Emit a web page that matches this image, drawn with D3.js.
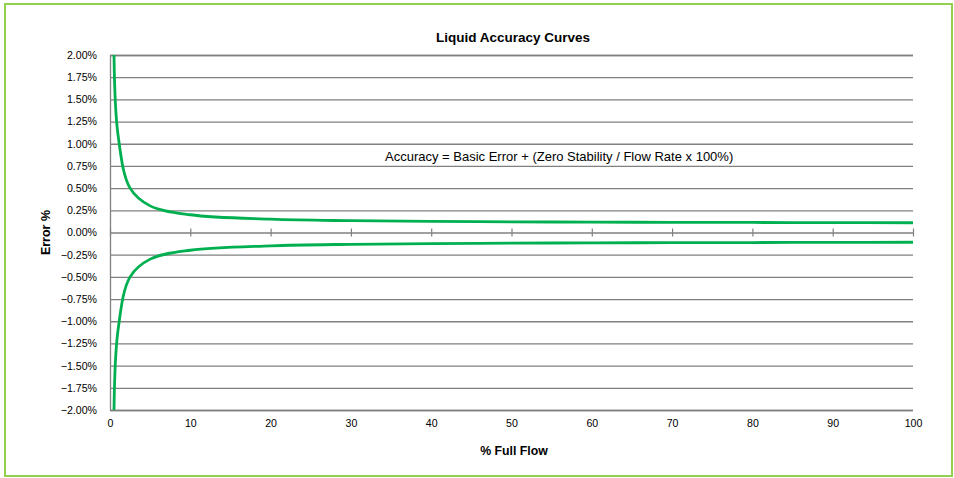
<!DOCTYPE html>
<html>
<head>
<meta charset="utf-8">
<script src="https://cdn.jsdelivr.net/npm/d3@7"></script>
<style>
  body { margin: 0; background: #fff; }
  svg { display: block; font-family: "Liberation Sans", Arial, sans-serif; }
</style>
</head>
<body>
<div id="chart"></div>
<script>
// values
const flow = [0.5, 1, 2.5, 5, 10, 20, 30, 40, 50, 60, 70, 80, 90, 100];
const upperError = [2.0, 1.1, 0.5, 0.3, 0.2, 0.15, 0.133, 0.125, 0.12, 0.117, 0.114, 0.113, 0.111, 0.11];
const lowerError = [-2.0, -1.1, -0.5, -0.3, -0.2, -0.15, -0.133, -0.125, -0.12, -0.117, -0.114, -0.113, -0.111, -0.11];
const xTicks = [0, 10, 20, 30, 40, 50, 60, 70, 80, 90, 100];
const yTicks = [-2, -1.75, -1.5, -1.25, -1, -0.75, -0.5, -0.25, 0, 0.25, 0.5, 0.75, 1, 1.25, 1.5, 1.75, 2];

const width = 954,
  height = 478,
  margin = ({ top: 55, right: 41, bottom: 68, left: 110 });

const x = d3.scaleLinear()
  .domain([0, 100])
  .range([margin.left, width - margin.right]);

const y = d3.scaleLinear()
  .domain([-2, 2])
  .range([height - margin.bottom, margin.top]);

const svg = d3.select("#chart")
  .append("svg")
  .attr("width", width)
  .attr("height", height)
  .attr("viewBox", [0, 0, width, height]);

// outer frame
svg.append("rect")
  .attr("x", 5).attr("y", 4)
  .attr("width", 947).attr("height", 472)
  .attr("fill", "none")
  .attr("stroke", "#92d050")
  .attr("stroke-width", 2);

// horizontal gridlines + y labels
svg.append("g")
  .attr("transform", `translate(${margin.left},0)`)
  .call(d3.axisLeft(y).tickValues(yTicks).tickFormat(d => d3.format(".2f")(d) + "%")
    .tickSize(-(width - margin.left - margin.right)).tickPadding(13))
  .call(g => g.select(".domain").attr("stroke", "#808080").attr("stroke-width", 1.3))
  .call(g => g.selectAll(".tick line").attr("stroke", "#808080").attr("stroke-width", 1.3))
  .call(g => g.selectAll(".tick text").attr("font-size", "10.6px").attr("fill", "#000"));

// zero axis with crossing ticks
svg.append("g")
  .attr("transform", `translate(0,${y(0)})`)
  .call(d3.axisBottom(x).tickValues(xTicks).tickSize(4).tickFormat(""))
  .call(g => g.select(".domain").remove())
  .call(g => g.selectAll(".tick line").attr("y1", -4).attr("stroke", "#808080").attr("stroke-width", 1.2));

// x labels along bottom
svg.append("g")
  .attr("transform", `translate(0,${height - margin.bottom})`)
  .call(d3.axisBottom(x).tickValues(xTicks).tickSize(0).tickPadding(9))
  .call(g => g.select(".domain").remove())
  .call(g => g.selectAll(".tick text").attr("font-size", "10.6px").attr("fill", "#000"));

const line = d3.line()
  .x((d, i) => x(flow[i]))
  .y(d => y(d))
  .curve(d3.curveCatmullRom.alpha(0.5));

[upperError, lowerError].forEach(s => {
  svg.append("path")
    .attr("d", line(s))
    .attr("fill", "none")
    .attr("stroke", "#00b050")
    .attr("stroke-width", 2.8);
});

svg.append("text")
  .attr("x", 513).attr("y", 42)
  .attr("text-anchor", "middle")
  .attr("font-size", "13.5px")
  .attr("font-weight", "bold")
  .text("Liquid Accuracy Curves");

svg.append("text")
  .attr("x", 385).attr("y", 161)
  .attr("font-size", "13px")
  .text("Accuracy = Basic Error + (Zero Stability / Flow Rate x 100%)");

svg.append("text")
  .attr("x", 514).attr("y", 455)
  .attr("text-anchor", "middle")
  .attr("font-size", "12.3px")
  .attr("font-weight", "bold")
  .text("% Full Flow");

svg.append("text")
  .attr("transform", `translate(50,${y(0)}) rotate(-90)`)
  .attr("text-anchor", "middle")
  .attr("font-size", "12.5px")
  .attr("font-weight", "bold")
  .text("Error %");
</script>
</body>
</html>
